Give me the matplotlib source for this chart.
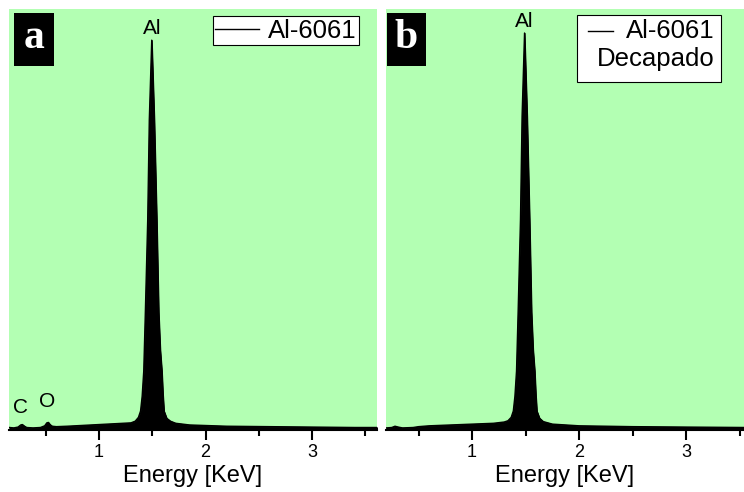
import matplotlib.pyplot as plt
from matplotlib.patches import Rectangle
from matplotlib.lines import Line2D
from matplotlib.ticker import MultipleLocator

plt.rcParams['font.family'] = ['Liberation Sans', 'DejaVu Sans']

# EDS spectra (counts scaled so the axis top is 1000)
energy_a = [0.16, 0.20, 0.24, 0.265, 0.28, 0.295, 0.32, 0.38, 0.45, 0.49, 0.51,
            0.525, 0.54, 0.56, 0.60, 0.70, 0.85, 1.00, 1.15, 1.30, 1.34, 1.37,
            1.39, 1.405, 1.42, 1.435, 1.457, 1.472, 1.495, 1.519, 1.542, 1.56,
            1.575, 1.59, 1.60, 1.61, 1.635, 1.67, 1.72, 1.85, 2.2, 2.6, 3.0,
            3.4, 3.62]
counts_a = [6, 5, 7, 12, 13, 10, 6, 5, 6, 10, 17,
            18, 13, 9, 8, 9, 11, 13, 15, 17, 21, 30,
            45, 80, 140, 280, 498, 736, 926, 736, 498, 280,
            190, 140, 85, 45, 28, 21, 16, 12, 9, 8, 7,
            6, 6]

energy_b = [0.20, 0.25, 0.28, 0.31, 0.35, 0.45, 0.50, 0.60, 0.80, 1.00, 1.20,
            1.30, 1.335, 1.365, 1.385, 1.40, 1.415, 1.43, 1.452, 1.467, 1.49,
            1.514, 1.537, 1.555, 1.57, 1.585, 1.595, 1.605, 1.63, 1.665, 1.75,
            2.0, 2.5, 3.0, 3.55]
counts_b = [5, 6, 9, 7, 5, 6, 8, 10, 12, 14, 16,
            19, 22, 30, 45, 80, 140, 280, 500, 745, 943,
            745, 500, 280, 190, 140, 85, 45, 28, 20, 14,
            10, 8, 7, 6]

green = '#b3ffb3'

fig = plt.figure(figsize=(7.44, 4.92), dpi=100)
W, H = 744, 492


def panel(rect_px, energy, counts, xlim, letter, peaks):
    x0, x1, y0, y1 = rect_px
    ax = fig.add_axes([x0 / W, (H - y1) / H, (x1 - x0) / W, (y1 - y0) / H])
    ax.set_facecolor(green)
    ax.fill_between(energy, 0, counts, color='black', lw=0.8)
    ax.plot(energy, counts, color='black', lw=1.0)
    ax.set_xlim(*xlim)
    ax.set_ylim(0, 1000)
    for s in ['top', 'left', 'right']:
        ax.spines[s].set_visible(False)
    ax.spines['bottom'].set_linewidth(1.5)
    ax.set_yticks([])
    ax.xaxis.set_major_locator(MultipleLocator(1))
    ax.xaxis.set_minor_locator(MultipleLocator(0.5))
    ax.tick_params(axis='x', which='major', length=7, width=1.5, labelsize=13, pad=3)
    ax.tick_params(axis='x', which='minor', length=4, width=1.5)
    ax.set_xlabel('Energy [KeV]', fontsize=17, labelpad=3)

    # panel letter in black box
    bx0 = 0.0136 if letter == 'a' else 0.003
    ax.add_patch(Rectangle((bx0, 0.865), 0.108, 0.125, transform=ax.transAxes,
                           facecolor='black', edgecolor='none', zorder=5))
    ax.text(bx0 + 0.054, 0.93, letter, transform=ax.transAxes, color='white',
            fontsize=30, fontweight='bold', family='Liberation Serif',
            ha='center', va='center', zorder=6)

    for name, xe, ye in peaks:
        ax.text(xe, ye, name, ha='center', va='bottom', fontsize=15)
    return ax


ax1 = panel((9, 377, 9, 430), energy_a, counts_a, (0.155, 3.61), 'a',
            [('Al', 1.495, 930), ('C', 0.26, 30), ('O', 0.51, 45)])
handle = Line2D([], [], color='black', lw=1.0)
leg = ax1.legend([handle], ['Al-6061'], loc='upper right',
                 bbox_to_anchor=(0.951, 0.983),
                 prop={'size': 18.5}, frameon=True,
                 fancybox=False, edgecolor='black', framealpha=1,
                 handlelength=1.7, handletextpad=0.35, borderpad=0.1,
                 borderaxespad=0)
leg.get_frame().set_linewidth(0.8)

ax2 = panel((386, 744, 9, 430), energy_b, counts_b, (0.196, 3.54), 'b',
            [('Al', 1.49, 948)])
# two-line legend box, handle on the first line
ax2.add_patch(Rectangle((0.534, 0.827), 0.402, 0.159, transform=ax2.transAxes,
                        facecolor='white', edgecolor='black', lw=0.8, zorder=9))
ax2.text(0.919, 0.976, 'Al-6061\nDecapado', transform=ax2.transAxes,
         ha='right', va='top', multialignment='right', fontsize=18.5,
         linespacing=1.2, zorder=10)
ax2.plot([0.564, 0.634], [0.947, 0.947], transform=ax2.transAxes,
         color='black', lw=1.0, zorder=10)

fig.savefig('out.png', dpi=100)
